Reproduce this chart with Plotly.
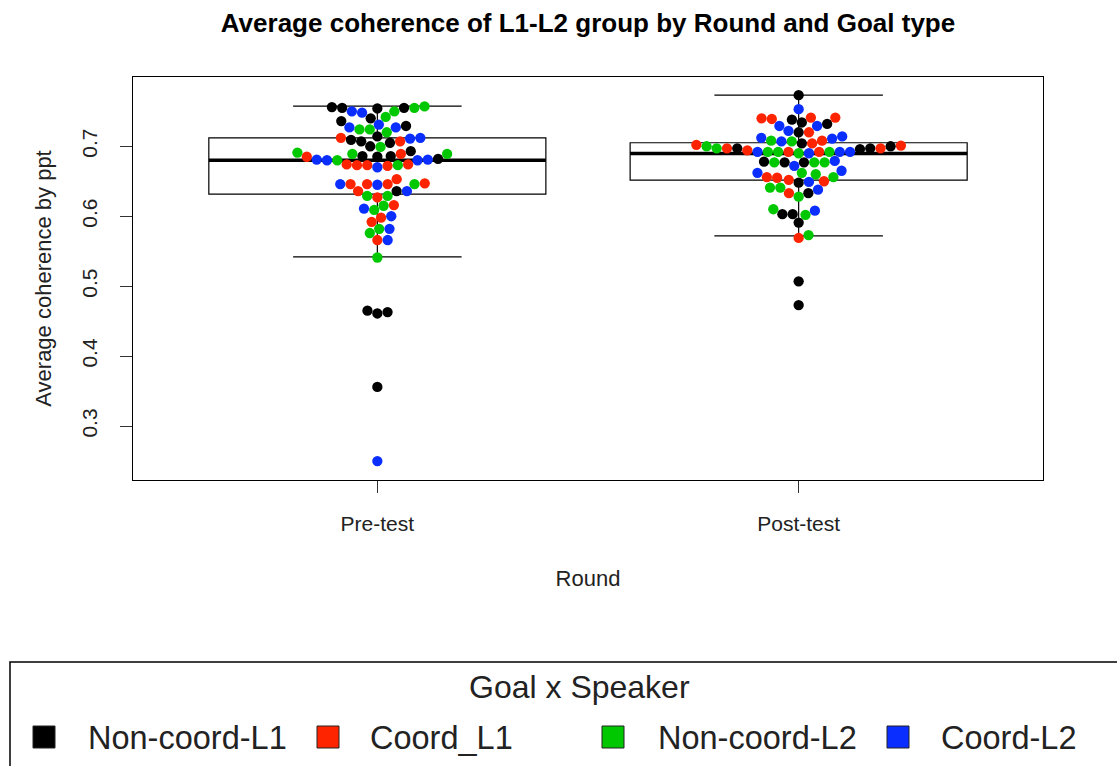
import numpy as np
import plotly.graph_objects as go

# ---------------- data ----------------
rounds = ["Pre-test", "Post-test"]
groups = ["Non-coord-L1", "Coord_L1", "Non-coord-L2", "Coord-L2"]
group_colors = ["#000000", "#FF2400", "#00C800", "#0A2EFF"]

pre_noncoord_L1 = [0.755, 0.756, 0.754, 0.755, 0.736, 0.740, 0.729, 0.709, 0.714, 0.705, 0.707,
                   0.700, 0.693, 0.685, 0.686, 0.682, 0.686, 0.636, 0.465, 0.463, 0.461, 0.356]
pre_coord_L1 = [0.707, 0.712, 0.685, 0.689, 0.673, 0.673, 0.674, 0.672, 0.674, 0.653, 0.646,
                0.646, 0.647, 0.646, 0.636, 0.627, 0.616, 0.598, 0.592, 0.566]
pre_noncoord_L2 = [0.757, 0.755, 0.750, 0.742, 0.724, 0.724, 0.720, 0.699, 0.689, 0.689, 0.691,
                   0.680, 0.673, 0.646, 0.629, 0.629, 0.615, 0.609, 0.582, 0.576, 0.541]
pre_coord_L2 = [0.750, 0.748, 0.727, 0.731, 0.727, 0.711, 0.712, 0.681, 0.681, 0.680, 0.680,
                0.670, 0.646, 0.645, 0.636, 0.611, 0.600, 0.582, 0.566, 0.250]

post_noncoord_L1 = [0.773, 0.738, 0.734, 0.732, 0.720, 0.704, 0.700, 0.696, 0.697, 0.697, 0.678,
                    0.677, 0.677, 0.648, 0.633, 0.603, 0.603, 0.591, 0.507, 0.473]
post_coord_L1 = [0.741, 0.740, 0.739, 0.741, 0.720, 0.708, 0.704, 0.702, 0.701, 0.697, 0.697,
                 0.694, 0.692, 0.692, 0.655, 0.656, 0.650, 0.652, 0.633, 0.569]
post_noncoord_L2 = [0.708, 0.707, 0.700, 0.697, 0.692, 0.692, 0.692, 0.690, 0.677, 0.677, 0.677,
                    0.660, 0.662, 0.656, 0.641, 0.641, 0.628, 0.602, 0.610, 0.573]
post_coord_L2 = [0.753, 0.729, 0.729, 0.722, 0.714, 0.712, 0.707, 0.711, 0.692, 0.692, 0.692,
                 0.690, 0.679, 0.672, 0.662, 0.665, 0.649, 0.638, 0.608]

# box statistics (as drawn in the reference)
box_q1 = [0.6315, 0.6515]
box_median = [0.680, 0.6896]
box_q3 = [0.712, 0.705]
box_lower = [0.542, 0.572]
box_upper = [0.7575, 0.773]

y_ticks = [0.3, 0.4, 0.5, 0.6, 0.7]

# ---------------- layout constants ----------------
W, H = 1117, 766
ML, MR, MT, MB = 133, 74, 77, 286
PW, PH = W - ML - MR, H - MT - MB
X_RANGE = [0.42, 2.58]
Y_RANGE = [0.223, 0.799]
BOX_W = 0.8
DOT = 10.3  # marker diameter in px
FONT = "Liberation Sans, Arial, Helvetica, sans-serif"

px_per_x = PW / (X_RANGE[1] - X_RANGE[0])
px_per_y = PH / (Y_RANGE[1] - Y_RANGE[0])


def swarm_offsets(values, d):
    """Beeswarm ('swarm' method): place points in ascending order at the
    free horizontal position closest to the centre. Returns px offsets."""
    vals = np.asarray(values, float) * px_per_y
    order = np.argsort(vals, kind="stable")
    placed = []
    out = np.zeros(len(vals))
    for i in order:
        y = vals[i]
        cands = [0.0]
        for (px, py) in placed:
            dy = abs(y - py)
            if dy < d:
                dx = np.sqrt(d * d - dy * dy)
                cands += [px + dx, px - dx]
        cands = sorted(cands, key=lambda c: (abs(c), -c))
        chosen = 0.0
        for c in cands:
            ok = True
            for (px, py) in placed:
                if (c - px) ** 2 + (y - py) ** 2 < d * d - 1e-6:
                    ok = False
                    break
            if ok:
                chosen = c
                break
        placed.append((chosen, y))
        out[i] = chosen
    return out


round_data = [
    [pre_noncoord_L1, pre_coord_L1, pre_noncoord_L2, pre_coord_L2],
    [post_noncoord_L1, post_coord_L1, post_noncoord_L2, post_coord_L2],
]

fig = go.Figure()

# boxes
fig.add_trace(go.Box(
    x=[1, 2], q1=box_q1, median=box_median, q3=box_q3,
    lowerfence=box_lower, upperfence=box_upper,
    width=BOX_W, whiskerwidth=0.5, boxpoints=False,
    fillcolor="white", line=dict(color="black", width=1.2),
    showlegend=False, hoverinfo="skip",
))
# thick median lines
mx, my = [], []
for k in range(2):
    mx += [k + 1 - BOX_W / 2, k + 1 + BOX_W / 2, None]
    my += [box_median[k], box_median[k], None]
fig.add_trace(go.Scatter(x=mx, y=my, mode="lines", line=dict(color="black", width=3.5),
                         showlegend=False, hoverinfo="skip"))

# swarm points
gx = [[] for _ in groups]
gy = [[] for _ in groups]
for r, series in enumerate(round_data):
    allv, gid = [], []
    for g, vals in enumerate(series):
        allv += list(vals)
        gid += [g] * len(vals)
    offs = swarm_offsets(allv, DOT)
    for v, g, o in zip(allv, gid, offs):
        gx[g].append(r + 1 + o / px_per_x)
        gy[g].append(v)

for g, name in enumerate(groups):
    fig.add_trace(go.Scatter(
        x=gx[g], y=gy[g], mode="markers", name=name,
        marker=dict(color=group_colors[g], size=DOT, line=dict(width=0)),
        showlegend=False,
    ))

# ---------------- custom legend (R-style, bottom) ----------------
def pxx(px):
    return (px - ML) / PW


def pxy(py):
    return (H - MB - py) / PH


shapes = [dict(type="rect", xref="paper", yref="paper",
               x0=pxx(10), x1=pxx(1140), y0=pxy(662), y1=pxy(800),
               line=dict(color="black", width=1.5), fillcolor="rgba(0,0,0,0)")]
annotations = [dict(text="Goal x Speaker", xref="paper", yref="paper",
                    x=pxx(579), y=pxy(687), xanchor="center", yanchor="middle",
                    showarrow=False, font=dict(family=FONT, size=32, color="#222"))]
key_cx = [44, 328, 613, 898]
text_x = [86, 368, 656, 939]
for g, name in enumerate(groups):
    shapes.append(dict(type="rect", xref="paper", yref="paper",
                       x0=pxx(key_cx[g] - 11), x1=pxx(key_cx[g] + 11),
                       y0=pxy(748), y1=pxy(726),
                       line=dict(color="#222", width=1), fillcolor=group_colors[g]))
    annotations.append(dict(text=name, xref="paper", yref="paper",
                            x=pxx(text_x[g]), y=pxy(738), xanchor="left", yanchor="middle",
                            showarrow=False, font=dict(family=FONT, size=32.5, color="#222")))

fig.update_layout(
    width=W, height=H,
    margin=dict(l=ML, r=MR, t=MT, b=MB, autoexpand=False),
    paper_bgcolor="white", plot_bgcolor="white",
    title=dict(text="<b>Average coherence of L1-L2 group by Round and Goal type</b>",
               x=(ML + PW / 2) / W, xanchor="center", xref="container",
               y=1 - 23 / H, yanchor="middle", yref="container",
               font=dict(family=FONT, size=26, color="black")),
    font=dict(family=FONT, color="#222"),
    shapes=shapes, annotations=annotations,
    showlegend=False,
)
fig.update_xaxes(
    range=X_RANGE, tickvals=[1, 2], ticktext=rounds,
    ticks="outside", ticklen=12, tickwidth=1, tickcolor="#333",
    tickfont=dict(family=FONT, size=21, color="#222"), ticklabelstandoff=13,
    showline=True, mirror=True, linecolor="black", linewidth=1.3,
    showgrid=False, zeroline=False,
    title=dict(text="Round", font=dict(family=FONT, size=22, color="#222"), standoff=36),
)
fig.update_yaxes(
    range=Y_RANGE, tickvals=y_ticks, ticktext=[str(t) for t in y_ticks],
    ticks="outside", ticklen=12, tickwidth=1, tickcolor="#333", tickangle=-90,
    tickfont=dict(family=FONT, size=21, color="#222"), ticklabelstandoff=14,
    showline=True, mirror=True, linecolor="black", linewidth=1.3,
    showgrid=False, zeroline=False,
    title=dict(text="Average coherence by ppt", font=dict(family=FONT, size=22, color="#222"),
               standoff=20),
)

fig.write_html("out.html")
